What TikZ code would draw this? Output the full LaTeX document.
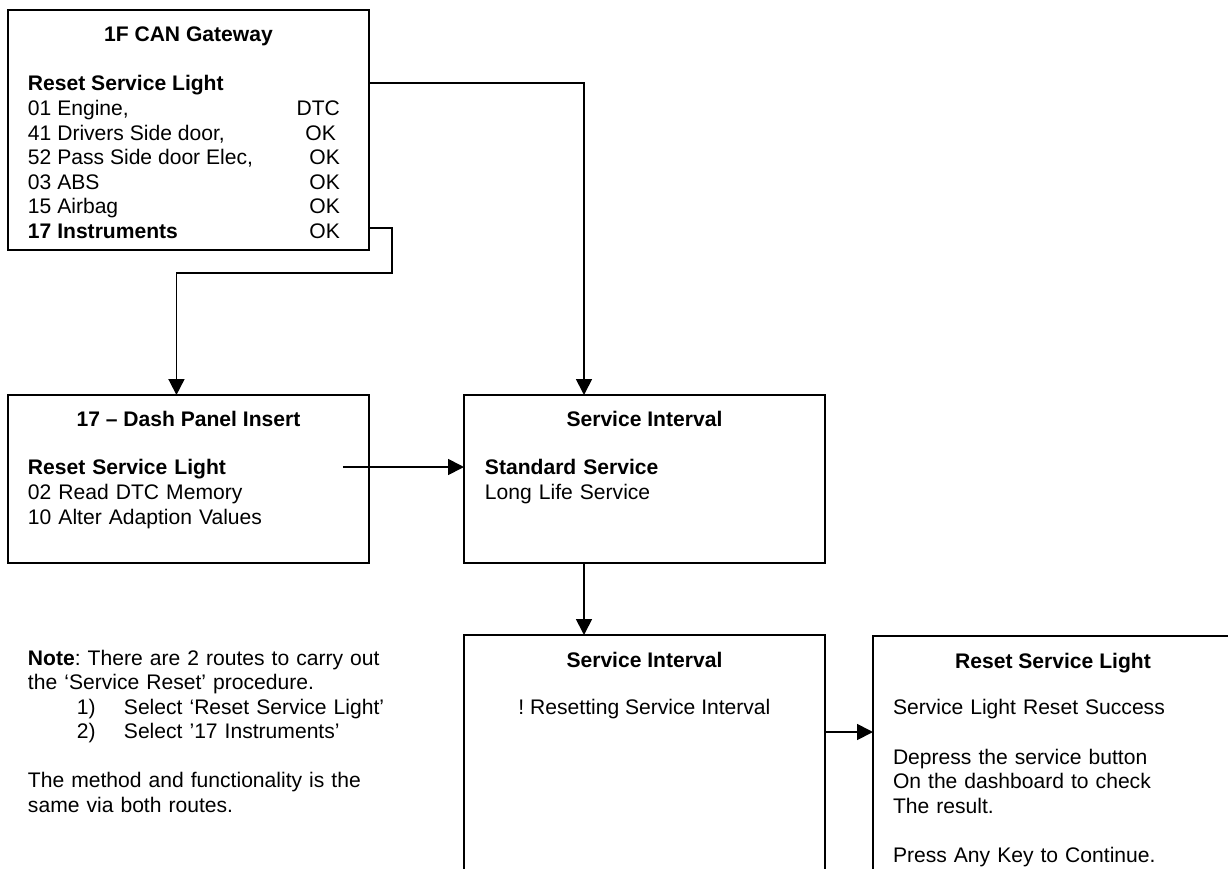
\documentclass[tikz,border=0pt]{standalone}
\usepackage{fontspec}
\setmainfont{Liberation Sans}
\usetikzlibrary{positioning}
\usetikzlibrary{arrows.meta,calc}
\tikzset{
    %Define standard arrow tip
    >={Triangle[length=0.32cm,width=0.32cm]},
    % Define arrow style
    pil/.style={
           ->,
           color=black,
           line width=1pt,}
}
\newcommand{\panelwidth}{7.22cm}
\newcommand{\menufont}{\frenchspacing\fontsize{12}{14}\selectfont}

\begin{document}
\begin{tikzpicture}[x=0.02cm, y=-0.02cm, outer sep=0pt]
\tikzstyle{panel}=[draw=black, fill=white, rectangle, line width=1.1pt, inner sep=0pt,
                   minimum width=\panelwidth, anchor=north west]
\tikzstyle{titletext}=[font=\menufont\bfseries, anchor=base, yshift=-0.64cm, inner sep=0pt]
\tikzstyle{bodytext}=[font=\menufont, anchor=base west, xshift=0.4cm, yshift=-1.6cm,
                   inner sep=0pt, text width=6.5cm, align=left]
\tikzstyle{listtext}=[font=\menufont, anchor=base west, xshift=0.4cm, yshift=-1.62cm, inner sep=0pt]

\useasboundingbox (0,0) rectangle (1228,869);
\clip (0,0) rectangle (1228,869);

%%%%%%%%%%%%%%%%%%%%%%%%%%%%%%%%%
% screens
%%%%%%%%%%%%%%%%%%%%%%%%%%%%%%%%%
    \node[panel, minimum height=4.8cm] (gateway) at (8,10) {};
    \node[titletext] (gwtitle) at (gateway.north) {1F CAN Gateway};
    \node[listtext] (gwlist) at (gateway.north west) {%
      \begin{tabular*}{6.24cm}[t]{@{}l@{\extracolsep{\fill}}r@{}}
      \textbf{Reset Service Light} & \\
      01 Engine, & DTC\\
      41 Drivers Side door, & OK\hspace*{0.08cm}\\
      52 Pass Side door Elec, & OK\\
      03 ABS & OK\\
      15 Airbag & OK\\
      \textbf{17 Instruments} & OK
      \end{tabular*}};

    \node[panel, minimum height=3.36cm] (dash) at (8,395) {};
    \node[titletext] (dashtitle) at (dash.north) {17 -- Dash Panel Insert};
    \node[bodytext] (dashmenu) at (dash.north west) {\textbf{Reset Service Light}\\02 Read DTC Memory\\10 Alter Adaption Values};

    \node[panel, minimum height=3.36cm] (svcint) at (464,395) {};
    \node[titletext] (svctitle) at (svcint.north) {Service Interval};
    \node[bodytext, xshift=0.02cm] (svcmenu) at (svcint.north west) {\textbf{Standard Service}\\Long Life Service};

    \node[panel, minimum height=6cm] (resetting) at (464,635) {};
    \node[titletext] (rsttitle) at (resetting.north) {Service Interval};
    \node[titletext, yshift=-0.96cm, font=\menufont] (rstmsg) at (resetting.north) {! Resetting Service Interval};

    \node[panel, minimum height=6cm, minimum width=7.2cm] (lightdone) at (873,636) {};
    \node[titletext] (donetitle) at (lightdone.north) {Reset Service Light};
    \node[bodytext, yshift=0.02cm] (donemsg) at (lightdone.north west) {Service Light Reset Success\\[14pt]Depress the service button\\On the dashboard to check\\The result.\\[14pt]Press Any Key to Continue.};

    \node[font=\menufont, anchor=base west, inner sep=0pt, text width=9cm, align=left] (note) at (28,665) {%
      \textbf{Note}: There are 2 routes to carry out\\
      the ‘Service Reset’ procedure.\\
      \hspace*{0.98cm}\makebox[0.94cm][l]{1)}Select ‘Reset Service Light’\\
      \hspace*{0.98cm}\makebox[0.94cm][l]{2)}Select ’17 Instruments’\\[14pt]
      The method and functionality is the\\
      same via both routes.};

%%%%%%%%%%%%%%%%%%%%%%%%%%%%%%%%%
% connectors
%%%%%%%%%%%%%%%%%%%%%%%%%%%%%%%%%
\coordinate (gwtap1) at ($(gateway.north east)+(0,73)$);
\coordinate (gwtap2) at ($(gateway.north east)+(0,218)$);
\coordinate (drop) at (584,83);
\coordinate (jog) at (392,273);
\coordinate (dashin) at ($(dash.north)+(-12,0)$);
\coordinate (dashout) at ($(dash.north east)+(-26,72)$);
\coordinate (rstout) at ($(resetting.north east)+(0,97)$);

\draw[pil] (gwtap1) -| (svcint.north -| drop);
\draw[pil] (gwtap2) -| (jog) -| (dashin);
\draw[pil] (dashout) -- (dashout -| svcint.west);
\draw[pil] (svcint.south -| drop) -- (resetting.north -| drop);
\draw[pil] (rstout) -- (rstout -| lightdone.west);

\end{tikzpicture}
\end{document}
